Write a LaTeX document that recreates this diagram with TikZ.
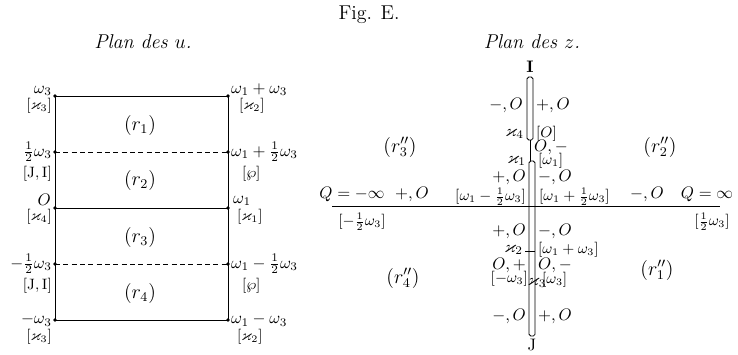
\documentclass[tikz,border=0pt]{standalone}
\usepackage{amsmath,amssymb}
\usetikzlibrary{positioning}
\tikzset{
  rim/.style={line width=0.6pt},
  halfline/.style={line width=0.5pt,dash pattern=on 3pt off 2pt},
  slitline/.style={line width=0.5pt},
  pt/.style={circle,fill,inner sep=0pt,minimum size=2.2pt},
  val/.style={inner sep=0.5pt,font=\normalsize},
  brk/.style={inner sep=0.5pt,font=\small},
  reg/.style={inner sep=0pt,font=\large},
  ttl/.style={inner sep=0pt,font=\large}
}

\begin{document}
\begin{tikzpicture}[x=0.6pt,y=-0.6pt]
  \useasboundingbox (0,0) rectangle (738,354);
  \node[ttl] (fig) at (369,15) {Fig. E.};
  \node[ttl,font=\large\itshape] (titleu) at (143,42) {Plan des $u$.};
  \node[ttl,font=\large\itshape] (titlez) at (532,42) {Plan des $z$.};

  % plan des u
  \node[pt] (u1) at (55,96) {};
  \node[pt] (u2) at (228,96) {};
  \node[pt] (u3) at (55,152) {};
  \node[pt] (u4) at (228,152) {};
  \node[pt] (u5) at (55,208) {};
  \node[pt] (u6) at (228,208) {};
  \node[pt] (u7) at (55,264) {};
  \node[pt] (u8) at (228,264) {};
  \node[pt] (u9) at (55,320) {};
  \node[pt] (u10) at (228,320) {};
  \draw[rim] (u1.center) -- (u2.center) -- (u10.center) -- (u9.center) -- cycle;
  \draw[rim] (u5.center) -- (u6.center);
  \draw[halfline] (u3.center) -- (u4.center);
  \draw[halfline] (u7.center) -- (u8.center);

  \node[val,anchor=base east] (lw3) at (53,93) {$\omega_3$};
  \node[brk,anchor=north east] (lx3) at (53,97) {$[\varkappa_3]$};
  \node[val,anchor=east] (lhw3) at (53,152) {$\frac12\omega_3$};
  \node[brk,anchor=north east] (lji) at (53,165) {$[\mathrm{J},\mathrm{I}]$};
  \node[val,anchor=south east] (lo) at (52,207) {$O$};
  \node[brk,anchor=north east] (lx4) at (53,208) {$[\varkappa_4]$};
  \node[val,anchor=east] (lmhw3) at (53,264) {$-\frac12\omega_3$};
  \node[brk,anchor=north east] (lji2) at (53,277) {$[\mathrm{J},\mathrm{I}]$};
  \node[val,anchor=east] (lmw3) at (53,320) {$-\omega_3$};
  \node[brk,anchor=north east] (lx3b) at (53,328) {$[\varkappa_3]$};

  \node[val,anchor=base west] (rw13) at (230,93) {$\omega_1+\omega_3$};
  \node[brk,anchor=north west] (rx2) at (238,97) {$[\varkappa_2]$};
  \node[val,anchor=west] (rw1h) at (230,152) {$\omega_1+\frac12\omega_3$};
  \node[brk,anchor=north west] (rwp) at (241,165) {$[\wp]$};
  \node[val,anchor=south west] (rw1) at (232,207) {$\omega_1$};
  \node[brk,anchor=north west] (rx1) at (236,208) {$[\varkappa_1]$};
  \node[val,anchor=west] (rw1mh) at (230,264) {$\omega_1-\frac12\omega_3$};
  \node[brk,anchor=north west] (rwp2) at (241,277) {$[\wp]$};
  \node[val,anchor=west] (rw1m3) at (230,320) {$\omega_1-\omega_3$};
  \node[brk,anchor=north west] (rx2b) at (236,328) {$[\varkappa_2]$};

  \node[reg] (r1) at (140,125) {$(r_1)$};
  \node[reg] (r2) at (140,180) {$(r_2)$};
  \node[reg] (r3) at (140,237) {$(r_3)$};
  \node[reg] (r4) at (140,293) {$(r_4)$};

  % plan des z
  \coordinate (qm) at (332,206);
  \coordinate (qp) at (720,206);
  \draw[rim] (qm) -- (qp);
  \coordinate (ia) at (527,77);
  \coordinate (ib) at (533,140);
  \coordinate (x4) at (530,140);
  \coordinate (x1) at (530,161);
  \coordinate (ja) at (529,161);
  \coordinate (jb) at (535,336);
  \draw[slitline,rounded corners=1pt] (ia) rectangle (ib);
  \draw[slitline] (x4) -- (x1);
  \draw[slitline,rounded corners=1pt] (ja) rectangle (jb);
  \coordinate (x2a) at (525,251);
  \coordinate (x2b) at (535,251);
  \draw[slitline] (x2a) -- (x2b);

  \node[val,font=\bfseries] (ptI) at (530,67) {I};
  \node[val] (ptJ) at (532,345) {J};
  \node[val,anchor=east] (a1) at (524,105) {$-,O$};
  \node[val,anchor=west] (a2) at (535,105) {$+,O$};
  \node[val,anchor=east] (a3) at (525,134) {$\varkappa_4$};
  \node[brk,anchor=west] (a4) at (535,134) {$[O]$};
  \node[val,anchor=west] (a5) at (533,147) {$O,-$};
  \node[val,anchor=east] (a6) at (527,161) {$\varkappa_1$};
  \node[brk,anchor=west] (a7) at (537,161) {$[\omega_1]$};
  \node[val,anchor=east] (a8) at (527,177) {$+,O$};
  \node[val,anchor=west] (a9) at (537,177) {$-,O$};
  \node[brk,anchor=east] (a10) at (527,197) {$[\omega_1-\frac12\omega_3]$};
  \node[brk,anchor=west] (a11) at (538,197) {$[\omega_1+\frac12\omega_3]$};
  \node[val] (qml) at (352,194) {$Q=-\infty$};
  \node[val] (a12) at (412,194) {$+,O$};
  \node[val] (a13) at (647,194) {$-,O$};
  \node[val] (qpl) at (707,194) {$Q=\infty$};
  \node[brk] (a14) at (362,222) {$[-\frac12\omega_3]$};
  \node[brk] (a15) at (712,222) {$[\frac12\omega_3]$};
  \node[val,anchor=east] (a16) at (527,231) {$+,O$};
  \node[val,anchor=west] (a17) at (537,231) {$-,O$};
  \node[val,anchor=east] (a18) at (524,250) {$\varkappa_2$};
  \node[brk,anchor=west] (a19) at (537,250) {$[\omega_1+\omega_3]$};
  \node[val,anchor=east] (a20) at (527,265) {$O,+$};
  \node[val,anchor=west] (a21) at (537,265) {$O,-$};
  \node[brk,anchor=east] (a22) at (529,279) {$[-\omega_3]$};
  \node[val,inner sep=0pt] (a23) at (537,283) {$\varkappa_3$};
  \node[brk,anchor=west] (a24) at (541,280) {$[\omega_3]$};
  \node[val,anchor=east] (a25) at (527,316) {$-,O$};
  \node[val,anchor=west] (a26) at (537,316) {$+,O$};

  \node[reg] (s3) at (400,147) {$(r_3'')$};
  \node[reg] (s2) at (660,147) {$(r_2'')$};
  \node[reg] (s4) at (403,278) {$(r_4'')$};
  \node[reg] (s1) at (657,270) {$(r_1'')$};
\end{tikzpicture}
\end{document}
